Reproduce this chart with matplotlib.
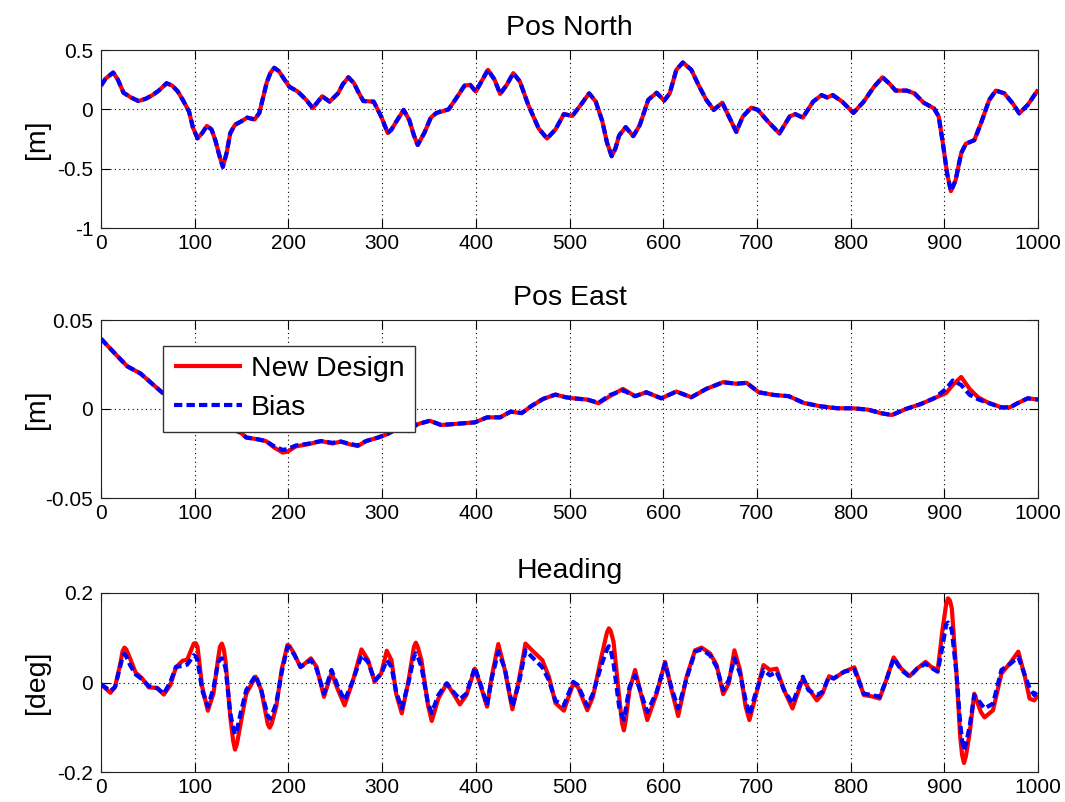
import matplotlib
matplotlib.use("Agg")
import matplotlib.pyplot as plt

plt.rcParams['font.family'] = ['Liberation Sans', 'DejaVu Sans']
plt.rcParams['axes.unicode_minus'] = False

# ---------------- data ----------------
titles = ["Pos North", "Pos East", "Heading"]
ylabels = ["[m]", "[m]", "[deg]"]
series_names = ["New Design", "Bias"]
xticks = [0, 100, 200, 300, 400, 500, 600, 700, 800, 900, 1000]

north_t = [0, 5, 13, 18, 24, 32, 40, 48, 55, 62, 70, 76, 82, 88, 94, 98, 103, 108, 113, 118,
           122, 126, 130, 134, 138, 143, 150, 156, 164, 169, 173, 177, 181, 185, 190, 195,
           201, 210, 219, 226, 231, 236, 244, 253, 258, 264, 270, 275, 280, 291, 299, 306,
           310, 315, 323, 329, 334, 338, 345, 352, 358, 365, 371, 378, 388, 394, 400, 406,
           413, 420, 426, 433, 440, 447, 456, 467, 476, 485, 494, 503, 512, 521, 528, 535,
           540, 545, 549, 553, 560, 568, 575, 584, 593, 601, 607, 614, 621, 630, 638, 646,
           654, 663, 671, 678, 685, 694, 701, 712, 724, 735, 741, 749, 760, 769, 775, 781,
           791, 803, 814, 825, 834, 841, 848, 860, 868, 878, 889, 894, 898, 903, 907, 912,
           918, 923, 932, 939, 948, 955, 964, 973, 980, 989, 1000]
north_new = [0.20, 0.26, 0.31, 0.25, 0.14, 0.10, 0.07, 0.09, 0.12, 0.16, 0.22, 0.20, 0.15,
             0.07, -0.02, -0.15, -0.245, -0.20, -0.14, -0.17, -0.26, -0.38, -0.485, -0.37,
             -0.20, -0.13, -0.10, -0.07, -0.085, -0.03, 0.10, 0.23, 0.31, 0.35, 0.32, 0.26,
             0.19, 0.15, 0.08, 0.01, 0.06, 0.11, 0.065, 0.135, 0.21, 0.27, 0.22, 0.14, 0.07,
             0.065, -0.06, -0.20, -0.17, -0.105, -0.005, -0.09, -0.22, -0.30, -0.20, -0.07,
             -0.03, -0.015, 0.0, 0.08, 0.20, 0.206, 0.15, 0.235, 0.333, 0.25, 0.13, 0.206,
             0.305, 0.235, 0.037, -0.16, -0.246, -0.17, -0.04, -0.056, 0.037, 0.135, 0.065,
             -0.10, -0.28, -0.395, -0.33, -0.22, -0.15, -0.226, -0.133, 0.08, 0.14, 0.073,
             0.135, 0.333, 0.395, 0.333, 0.20, 0.08, -0.005, 0.056, -0.076, -0.19, -0.06,
             0.014, -0.005, -0.104, -0.203, -0.06, -0.04, -0.07, 0.065, 0.12, 0.10, 0.12,
             0.065, -0.03, 0.065, 0.19, 0.27, 0.22, 0.158, 0.158, 0.135, 0.056, 0.008, -0.06,
             -0.26, -0.54, -0.69, -0.60, -0.37, -0.29, -0.26, -0.12, 0.08, 0.158, 0.135, 0.05,
             -0.034, 0.037, 0.164]
north_bias = list(north_new)

east_t = [0, 8, 17, 28, 42, 55, 65, 80, 95, 110, 125, 138, 149, 155, 167, 176, 185, 194, 199,
          208, 221, 235, 247, 256, 265, 274, 283, 296, 306, 315, 322, 328, 338, 351, 363, 385,
          399, 412, 426, 437, 449, 460, 472, 485, 496, 504, 519, 531, 543, 557, 570, 582, 598,
          614, 630, 646, 664, 678, 689, 702, 718, 734, 750, 768, 786, 803, 819, 832, 844, 859,
          875, 889, 902, 909, 918, 927, 936, 946, 961, 970, 978, 989, 1000]
east_new = [0.0395, 0.035, 0.030, 0.024, 0.020, 0.014, 0.0094, 0.004, 0.0, -0.004, -0.008,
            -0.011, -0.0132, -0.016, -0.017, -0.018, -0.0217, -0.0245, -0.024, -0.021, -0.0198,
            -0.018, -0.0194, -0.0183, -0.0198, -0.0208, -0.018, -0.016, -0.014, -0.0113,
            -0.011, -0.0125, -0.0085, -0.0066, -0.009, -0.0081, -0.0075, -0.0047, -0.0047,
            -0.0015, -0.0023, 0.0019, 0.0057, 0.0081, 0.0066, 0.006, 0.0053, 0.0032, 0.0072,
            0.0113, 0.0072, 0.0094, 0.006, 0.0098, 0.0066, 0.0113, 0.0151, 0.0142, 0.0147,
            0.0094, 0.0079, 0.0072, 0.0034, 0.0015, 0.0004, 0.0004, -0.0004, -0.0023, -0.0034,
            0.0, 0.0028, 0.006, 0.009, 0.0135, 0.018, 0.0113, 0.0066, 0.0038, 0.0009, 0.0009,
            0.0032, 0.006, 0.0053]
east_bias = [0.0395, 0.035, 0.030, 0.024, 0.020, 0.014, 0.0094, 0.004, 0.0, -0.004, -0.008,
             -0.011, -0.0132, -0.016, -0.017, -0.018, -0.021, -0.023, -0.0225, -0.0205, -0.0195,
             -0.018, -0.019, -0.0183, -0.0195, -0.0205, -0.018, -0.016, -0.014, -0.0113,
             -0.0105, -0.011, -0.0085, -0.0066, -0.009, -0.0081, -0.0075, -0.0047, -0.0047,
             -0.0015, -0.0023, 0.0019, 0.0057, 0.0081, 0.0066, 0.006, 0.0053, 0.0035, 0.0078,
             0.0105, 0.0072, 0.0094, 0.006, 0.0098, 0.0066, 0.0113, 0.015, 0.0142, 0.0147,
             0.0094, 0.0079, 0.0072, 0.0034, 0.0015, 0.0004, 0.0004, -0.0004, -0.0023, -0.0034,
             0.0, 0.0028, 0.006, 0.0113, 0.016, 0.0135, 0.008, 0.0055, 0.0035, 0.0009, 0.0009,
             0.0032, 0.006, 0.0053]

head_t = [0, 10, 15, 21, 23, 25, 27, 31, 37, 44,
          51, 60, 67, 74, 80, 87, 92, 99, 101, 103,
          108, 114, 120, 125, 127, 129, 131, 133, 138, 141,
          143, 145, 149, 155, 165, 171, 178, 180, 182, 187,
          193, 199, 201, 206, 213, 224, 230, 238, 246, 253,
          260, 269, 278, 285, 292, 299, 305, 310, 315, 321,
          328, 334, 336, 338, 342, 349, 353, 360, 369, 376,
          383, 390, 399, 406, 412, 417, 424, 431, 439, 446,
          453, 460, 471, 478, 485, 494, 504, 509, 519, 525,
          534, 540, 542, 544, 547, 553, 556, 558, 560, 564,
          570, 577, 583, 593, 602, 609, 616, 625, 634, 641,
          650, 657, 664, 670, 676, 682, 688, 692, 698, 707,
          714, 721, 729, 738, 749, 755, 764, 770, 777, 782,
          793, 804, 809, 814, 823, 831, 838, 846, 854, 863,
          871, 880, 886, 893, 898, 902, 904, 906, 908, 913,
          917, 919, 921, 923, 927, 932, 939, 943, 952, 961,
          970, 979, 986, 991, 996, 1000]
head_new = [-0.004, -0.023, -0.010, 0.046, 0.070, 0.078, 0.074, 0.054, 0.022, 0.009,
            -0.011, -0.012, -0.027, -0.006, 0.034, 0.0485, 0.051, 0.087, 0.088, 0.080,
            -0.010, -0.063, -0.025, 0.054, 0.080, 0.087, 0.075, 0.046, -0.077, -0.130,
            -0.150, -0.138, -0.092, -0.025, 0.013, -0.017, -0.093, -0.101, -0.093, -0.054,
            0.031, 0.084, 0.082, 0.065, 0.034, 0.054, 0.035, -0.032, 0.022, -0.017,
            -0.051, 0.005, 0.074, 0.050, 0.0015, 0.020, 0.071, 0.050, -0.025, -0.069,
            0.0015, 0.080, 0.089, 0.080, 0.050, -0.051, -0.086, -0.036, -0.002, -0.025,
            -0.049, -0.028, 0.031, -0.013, -0.054, 0.013, 0.086, 0.028, -0.060, 0.005,
            0.087, 0.072, 0.050, 0.013, -0.046, -0.063, -0.002, -0.010, -0.062, -0.032,
            0.057, 0.112, 0.121, 0.115, 0.091, -0.032, -0.090, -0.107, -0.085, -0.017,
            0.028, -0.032, -0.084, -0.025, 0.046, -0.017, -0.075, 0.013, 0.072, 0.078,
            0.065, 0.039, -0.026, -0.002, 0.072, 0.028, -0.054, -0.084, -0.036, 0.039,
            0.028, 0.031, -0.017, -0.058, 0.009, -0.013, -0.040, -0.025, 0.014, 0.009,
            0.024, 0.034, 0.005, -0.028, -0.031, -0.036, 0.005, 0.056, 0.031, 0.014,
            0.031, 0.046, 0.035, 0.028, 0.117, 0.175, 0.188, 0.183, 0.166, 0.020,
            -0.122, -0.162, -0.180, -0.165, -0.114, -0.025, -0.066, -0.078, -0.062, 0.020,
            0.043, 0.069, 0.013, -0.036, -0.040, -0.028]
head_bias = [-0.004, -0.019, -0.010, 0.040, 0.058, 0.064, 0.058, 0.039, 0.018, 0.007,
             -0.008, -0.013, -0.025, 0.001, 0.035, 0.037, 0.040, 0.061, 0.058, 0.050,
             -0.017, -0.054, -0.013, 0.045, 0.052, 0.054, 0.047, 0.031, -0.069, -0.100,
             -0.116, -0.107, -0.069, -0.017, 0.016, -0.017, -0.075, -0.081, -0.075, -0.047,
             0.024, 0.080, 0.078, 0.063, 0.035, 0.050, 0.031, -0.025, 0.028, -0.010,
             -0.040, 0.005, 0.061, 0.046, 0.005, 0.019, 0.050, 0.035, -0.021, -0.058,
             -0.002, 0.058, 0.065, 0.058, 0.035, -0.047, -0.068, -0.028, -0.002, -0.021,
             -0.037, -0.025, 0.034, -0.010, -0.051, 0.009, 0.069, 0.031, -0.054, -0.002,
             0.072, 0.057, 0.034, 0.005, -0.041, -0.051, 0.0015, -0.006, -0.053, -0.025,
             0.039, 0.074, 0.081, 0.072, 0.043, -0.054, -0.074, -0.083, -0.060, -0.010,
             0.016, -0.028, -0.066, -0.021, 0.043, -0.013, -0.058, 0.009, 0.069, 0.074,
             0.061, 0.035, -0.017, 0.005, 0.054, 0.020, -0.040, -0.073, -0.028, 0.028,
             0.016, 0.024, -0.017, -0.047, 0.013, -0.017, -0.028, -0.021, 0.013, 0.009,
             0.024, 0.029, 0.001, -0.025, -0.028, -0.032, 0.005, 0.054, 0.028, 0.013,
             0.031, 0.042, 0.033, 0.024, 0.080, 0.130, 0.134, 0.128, 0.117, 0.020,
             -0.092, -0.130, -0.151, -0.138, -0.099, -0.028, -0.047, -0.058, -0.047, 0.028,
             0.041, 0.057, 0.016, -0.013, -0.028, -0.017]

yticks_list = [[-1, -0.5, 0, 0.5], [-0.05, 0, 0.05], [-0.2, 0, 0.2]]
ytick_labels = [["-1", "-0.5", "0", "0.5"], ["-0.05", "0", "0.05"], ["-0.2", "0", "0.2"]]
ylims = [(-1, 0.5), (-0.05, 0.05), (-0.2, 0.2)]

data = [(north_t, north_new, north_bias), (east_t, east_new, east_bias),
        (head_t, head_new, head_bias)]

# ---------------- figure ----------------
W, H = 1065, 802
fig = plt.figure(figsize=(W / 100, H / 100), dpi=100)
fig.patch.set_facecolor('white')

ax_px = [(50, 228), (320, 498), (593, 772)]
left_px, right_px = 101, 1038

axes = []
for i, (top, bot) in enumerate(ax_px):
    ax = fig.add_axes([left_px / W, 1 - bot / H, (right_px - left_px) / W, (bot - top) / H])
    t, ynew, ybias = data[i]
    ax.plot(t, ynew, color='#ff0000', lw=3.0, solid_joinstyle='round',
            solid_capstyle='butt', label=series_names[0])
    ax.plot(t, ybias, color='#0000ff', lw=3.0, ls=(0, (2.0, 1.0)),
            dash_joinstyle='round', label=series_names[1])
    ax.set_xlim(0, 1000)
    ax.set_ylim(*ylims[i])
    ax.set_xticks(xticks)
    ax.set_xticklabels([str(v) for v in xticks])
    ax.set_yticks(yticks_list[i])
    ax.set_yticklabels(ytick_labels[i])
    ax.grid(True, color='k', lw=0.8, ls=(0, (1, 3)))
    ax.set_axisbelow(True)
    ax.tick_params(direction='in', top=True, right=True, length=6.5, width=0.8,
                   labelsize=15, colors='k')
    ax.tick_params(axis='y', pad=5.5)
    ax.tick_params(axis='x', pad=4.5)
    for s in ax.spines.values():
        s.set_linewidth(0.8)
        s.set_color('#222222')
    ax.set_title(titles[i], fontsize=20.5, pad=11)
    ax.set_ylabel(ylabels[i], fontsize=20.5)
    ax.yaxis.set_label_coords(-0.054, 0.5)
    axes.append(ax)

leg = axes[1].legend(loc='upper left', bbox_to_anchor=(0.066, 0.856), borderaxespad=0,
                     fontsize=20.5, fancybox=False, framealpha=1, edgecolor='#333333',
                     handlelength=2.4, handletextpad=0.3, borderpad=0.38, labelspacing=0.45)
leg.get_frame().set_linewidth(1.0)

fig.savefig("out.png", dpi=100, facecolor='white')
